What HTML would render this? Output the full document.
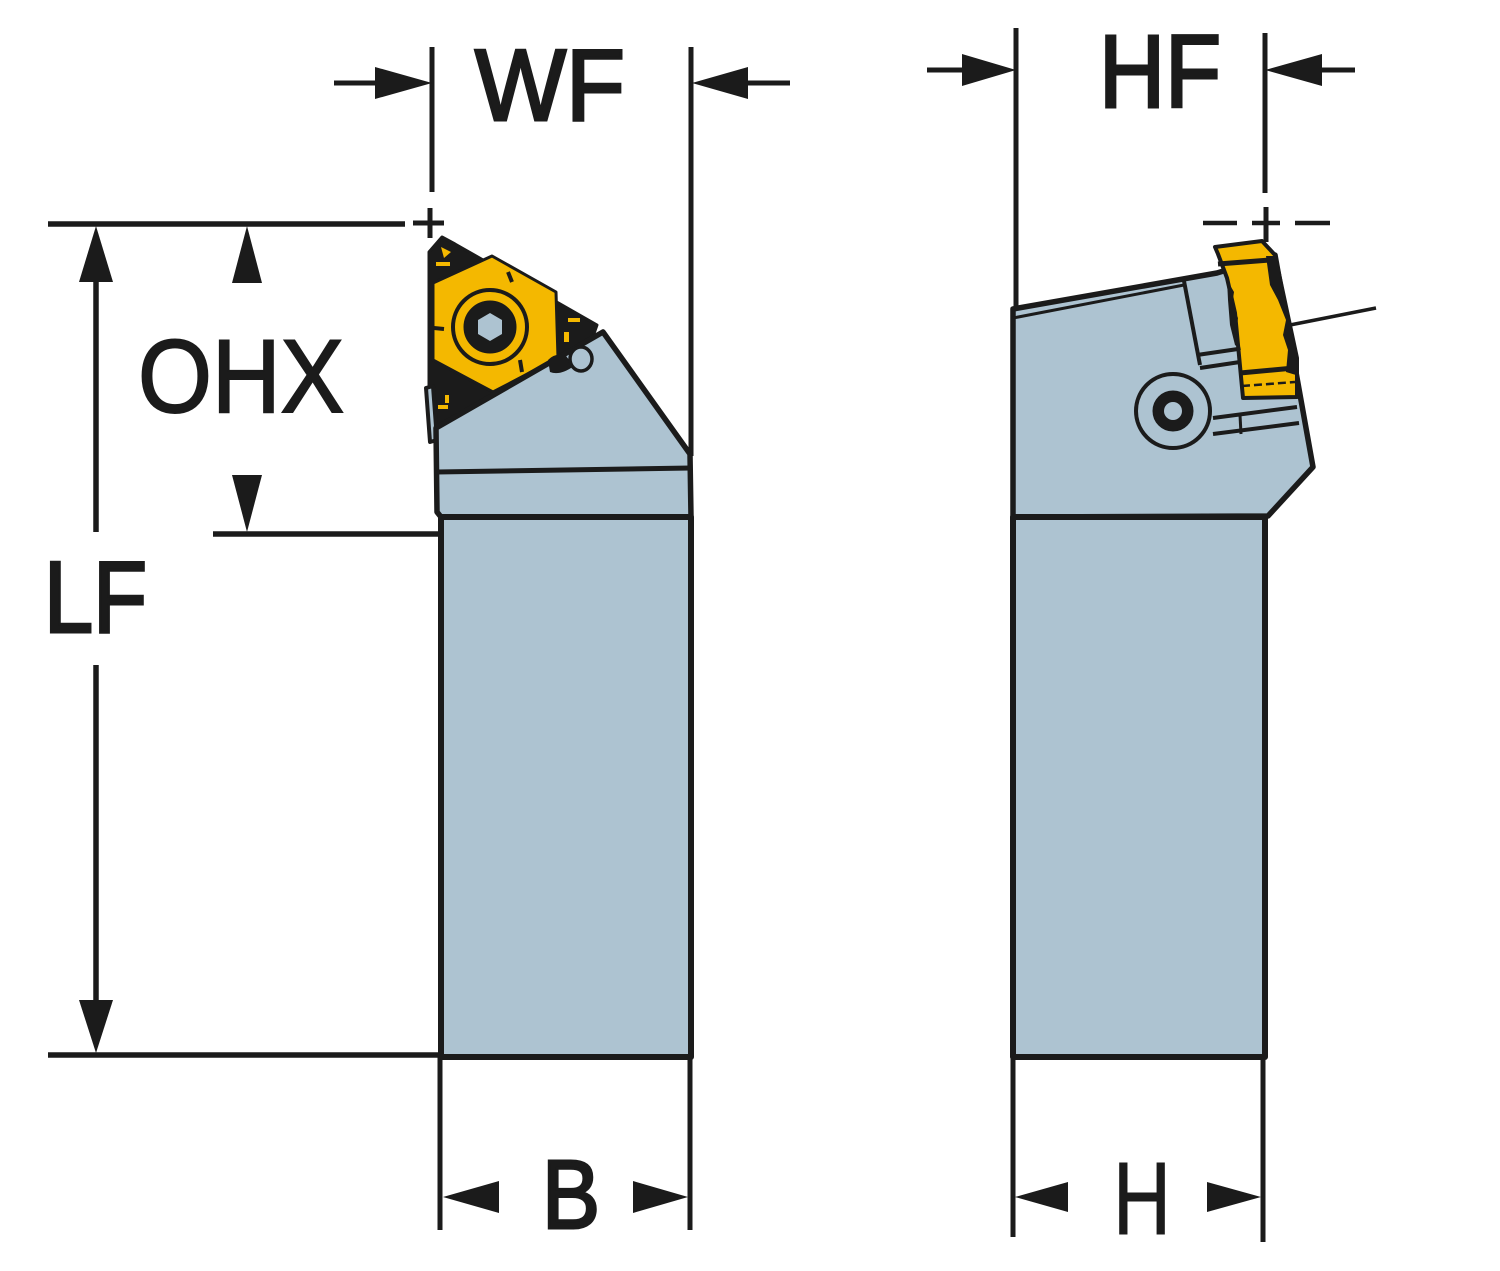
<!DOCTYPE html>
<html><head><meta charset="utf-8"><style>
html,body{margin:0;padding:0;background:#fff;}
svg{display:block;}
text{font-family:"Liberation Sans",Arial,sans-serif;fill:#1b1b1b;stroke:#1b1b1b;}
</style></head><body>
<svg width="1500" height="1271" viewBox="0 0 1500 1271" xmlns="http://www.w3.org/2000/svg">
<rect width="1500" height="1271" fill="#fff"/>
<g stroke="#1b1b1b" fill="none" stroke-linecap="butt">
  <!-- WF -->
  <line x1="432" y1="47" x2="432" y2="192" stroke-width="5"/>
  <line x1="334" y1="83" x2="400" y2="83" stroke-width="5"/>
  <line x1="691" y1="47" x2="691" y2="456" stroke-width="5"/>
  <line x1="720" y1="83" x2="790" y2="83" stroke-width="5"/>
  <!-- plus left -->
  <line x1="430" y1="208" x2="430" y2="238" stroke-width="5"/>
  <line x1="413" y1="223" x2="444" y2="223" stroke-width="5"/>
  <!-- horizontal dims -->
  <line x1="48" y1="224" x2="405" y2="224" stroke-width="5.5"/>
  <line x1="213" y1="534" x2="442" y2="534" stroke-width="5.5"/>
  <line x1="48" y1="1055" x2="442" y2="1055" stroke-width="5.5"/>
  <!-- LF -->
  <line x1="96" y1="250" x2="96" y2="532" stroke-width="5.5"/>
  <line x1="96" y1="665" x2="96" y2="1030" stroke-width="5.5"/>
  <!-- HF -->
  <line x1="1016" y1="28" x2="1016" y2="312" stroke-width="5"/>
  <line x1="927" y1="70" x2="980" y2="70" stroke-width="5"/>
  <line x1="1265" y1="33" x2="1265" y2="193" stroke-width="5"/>
  <line x1="1300" y1="70" x2="1355" y2="70" stroke-width="5"/>
  <line x1="1266" y1="207" x2="1266" y2="242" stroke-width="5"/>
  <line x1="1203" y1="223" x2="1237" y2="223" stroke-width="4.5"/>
  <line x1="1252" y1="223" x2="1280" y2="223" stroke-width="4.5"/>
  <line x1="1295" y1="223" x2="1330" y2="223" stroke-width="4.5"/>
  <line x1="1290" y1="325" x2="1376" y2="308" stroke-width="3.5"/>
  <!-- bottom ext lines -->
  <line x1="440" y1="1057" x2="440" y2="1230" stroke-width="5"/>
  <line x1="690" y1="1057" x2="690" y2="1230" stroke-width="5"/>
  <line x1="1013" y1="1057" x2="1013" y2="1237" stroke-width="5"/>
  <line x1="1263" y1="1057" x2="1263" y2="1242" stroke-width="5"/>
</g>
<!-- arrowheads -->
<g fill="#1b1b1b">
  <polygon points="432,83 375,67 375,99"/>
  <polygon points="692,83 748,67 748,99"/>
  <polygon points="1016,70 962,54 962,86"/>
  <polygon points="1265,70 1322,54 1322,86"/>
  <polygon points="96,226 79,282 113,282"/>
  <polygon points="96,1053 79,1000 113,1000"/>
  <polygon points="247,226 232,283 262,283"/>
  <polygon points="247,532 232,475 262,475"/>
  <polygon points="443,1197 499,1181 499,1213"/>
  <polygon points="688,1197 633,1181 633,1213"/>
  <polygon points="1015,1197 1068,1182 1068,1212"/>
  <polygon points="1261,1197 1207,1182 1207,1212"/>
</g>
<!-- labels -->
<text x="475" y="120" font-size="101" stroke-width="3" textLength="150" lengthAdjust="spacingAndGlyphs">WF</text>
<text x="1099" y="107" font-size="103" stroke-width="3" textLength="122" lengthAdjust="spacingAndGlyphs">HF</text>
<text x="138" y="412" font-size="104" stroke-width="2" textLength="206" lengthAdjust="spacingAndGlyphs">OHX</text>
<text x="44" y="632" font-size="101" stroke-width="3" textLength="103" lengthAdjust="spacingAndGlyphs">LF</text>
<text x="542" y="1228" font-size="97" stroke-width="3" textLength="58" lengthAdjust="spacingAndGlyphs">B</text>
<text x="1113" y="1234" font-size="103" stroke-width="1" textLength="58" lengthAdjust="spacingAndGlyphs">H</text>

<!-- LEFT TOOL -->
<g stroke="#1b1b1b" stroke-linejoin="round">
  <!-- insert triangle -->
  <polygon points="442,237 455,244 597,325 590,345 445,428 432,438 429,400 429,252" fill="#1b1b1b" stroke-width="3"/>
  <!-- side bracket -->
  <polygon points="426,388 433,386 437,440 430,442" fill="#adc3d1" stroke-width="4"/>
  <!-- hexagon -->
  <polygon points="433,283 492,256 556,292 558,358 493,392 433,360" fill="#f4b800" stroke-width="3"/>
  <!-- notches -->
  <line x1="508" y1="272" x2="512" y2="282" stroke-width="4"/>
  <line x1="434" y1="328" x2="444" y2="329" stroke-width="4"/>
  <line x1="520" y1="360" x2="522" y2="372" stroke-width="4"/>
  <!-- circle -->
  <circle cx="490" cy="327" r="37" fill="#f4b800" stroke-width="4"/>
  <circle cx="490" cy="327" r="26" fill="#1b1b1b" stroke-width="1"/>
  <polygon points="490,313 502,320 502,334 490,341 478,334 478,320" fill="#adc3d1" stroke="none"/>
  <!-- yellow specks in corners -->
  <polygon points="441,247 451,252 444,258" fill="#f4b800" stroke="none"/>
  <rect x="436" y="262" width="14" height="4" fill="#f4b800" stroke="none"/>
  <rect x="568" y="318" width="12" height="4" fill="#f4b800" stroke="none"/>
  <rect x="564" y="332" width="5" height="10" fill="#f4b800" stroke="none"/>
  <rect x="438" y="405" width="10" height="4" fill="#f4b800" stroke="none"/>
  <rect x="445" y="395" width="4" height="8" fill="#f4b800" stroke="none"/>
  <!-- head -->
  <polygon points="436,428 603,332 690,454 691,517 441,517 437,512" fill="#adc3d1" stroke-width="5.5"/>
  <line x1="437" y1="472" x2="691" y2="468" stroke-width="5"/>
  <!-- clamp (over head) -->
  <path d="M548,360 Q556,352 566,356 L574,366 Q560,376 550,372 Z" fill="#1b1b1b" stroke="none"/>
  <ellipse cx="581" cy="359" rx="11" ry="12" fill="#adc3d1" stroke-width="3.5"/>
  <!-- shank -->
  <rect x="441" y="517" width="250" height="540" fill="#adc3d1" stroke-width="6"/>
</g>

<!-- RIGHT TOOL -->
<g stroke="#1b1b1b" stroke-linejoin="round">
  <!-- head -->
  <polygon points="1013,309 1217,273 1275,255 1313,467 1268,516 1013,517" fill="#adc3d1" stroke-width="5.5"/>
  <line x1="1013" y1="318" x2="1184" y2="285" stroke-width="3"/>
  <!-- pocket lines -->
  <line x1="1184" y1="281" x2="1200" y2="365" stroke-width="4"/>
  <line x1="1197" y1="355" x2="1238" y2="349" stroke-width="4"/>
  <line x1="1200" y1="368" x2="1240" y2="362" stroke-width="4"/>
  <line x1="1213" y1="418" x2="1297" y2="407" stroke-width="4"/>
  <line x1="1213" y1="434" x2="1299" y2="423" stroke-width="4"/>
  <line x1="1240" y1="415" x2="1241" y2="434" stroke-width="3"/>
  <!-- screw -->
  <circle cx="1173" cy="411" r="37" fill="#adc3d1" stroke-width="4"/>
  <circle cx="1173" cy="411" r="20" fill="#1b1b1b" stroke-width="1"/>
  <circle cx="1173" cy="411" r="9" fill="#adc3d1" stroke="none"/>
  <!-- insert -->
  <polygon points="1215,247 1262,241 1275,255 1297,358 1297,397 1243,398 1235,313 1227,278 1218,254" fill="#f4b800" stroke-width="4"/>
  <line x1="1218" y1="264" x2="1270" y2="260" stroke-width="5"/>
  <line x1="1240" y1="373" x2="1294" y2="368" stroke-width="5"/>
  <line x1="1242" y1="386" x2="1295" y2="382" stroke-width="2.5" stroke-dasharray="8,4"/>
  <polygon points="1266,256 1276,256 1297,355 1296,375 1286,372 1288,350 1283,335 1286,320 1278,300 1270,285" fill="#1b1b1b" stroke="none"/>
  <polygon points="1227,280 1234,292 1232,305 1238,318 1236,332 1241,350 1235,345 1230,325 1228,300" fill="#1b1b1b" stroke="none"/>
  <!-- shank -->
  <rect x="1013" y="517" width="252" height="540" fill="#adc3d1" stroke-width="6"/>
</g>
</svg>
</body></html>
